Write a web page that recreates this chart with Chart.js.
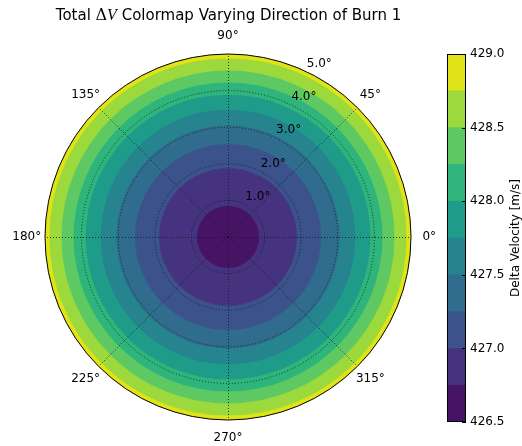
<!DOCTYPE html>
<html>
<head>
<meta charset="utf-8">
<script src="https://cdn.jsdelivr.net/npm/chart.js@4.4.1/dist/chart.umd.min.js"></script>
<style>
  html, body { margin: 0; padding: 0; background: #fff; }
  #wrap { position: relative; width: 522px; height: 446px; }
  #polarBox { position: absolute; left: 0; top: 0; width: 440px; height: 446px; }
  #barBox { position: absolute; left: 440px; top: 0; width: 82px; height: 446px; }
</style>
</head>
<body>
<div id="wrap">
  <div id="polarBox"><canvas id="polar"></canvas></div>
  <div id="barBox"><canvas id="cbar"></canvas></div>
</div>
<script>
// contour levels of total delta-V [m/s]
const levels = [426.5, 426.75, 427.0, 427.25, 427.5, 427.75, 428.0, 428.25, 428.5, 428.75, 429.0];
const bandColors = ['#471365', '#46337f', '#3b528b', '#2f6c8e', '#25848e',
                    '#1e9c89', '#2fb47c', '#5ec962', '#9bd93c', '#dfe318'];

// direction labels (theta grid)
const thetaLabels = ['0°', '45°', '90°', '135°', '180°', '225°', '270°', '315°'];
const thetaDegrees = [0, 45, 90, 135, 180, 225, 270, 315];

// radial axis (burn angle, degrees)
const radialTicks = [1, 2, 3, 4, 5];
const radialMax = 5;

// radius where each level boundary 426.75 ... 428.75 sits (outer band fills to the edge)
const levelRadius = [0.85, 1.88, 2.54, 3.05, 3.48, 3.89, 4.22, 4.55, 4.88];

Chart.defaults.font.family = 'DejaVu Sans';
Chart.defaults.font.size = 12;
Chart.defaults.color = '#000';

const gridColor = 'rgba(20,20,20,0.8)';

// one filled disc per band, inner bands on top (dataset 0 is drawn last)
const polarDatasets = bandColors.map((c, k) => ({
  label: levels[k] + '-' + levels[k + 1],
  data: [k < levelRadius.length ? levelRadius[k] : radialMax],
  backgroundColor: c,
  borderWidth: 0
}));

const polarDecor = {
  id: 'polarDecor',
  afterDraw(chart) {
    const ctx = chart.ctx;
    const sc = chart.scales.r;
    const cx = sc.xCenter, cy = sc.yCenter, R = sc.drawingArea;
    ctx.save();

    // theta grid lines
    ctx.strokeStyle = gridColor;
    ctx.lineWidth = 1;
    ctx.setLineDash([1, 2]);
    thetaDegrees.forEach(deg => {
      const a = deg * Math.PI / 180;
      const ox = deg % 180 === 90 ? 0.5 : 0;
      const oy = deg % 180 === 0 ? 0.5 : 0;
      ctx.beginPath();
      ctx.moveTo(cx + ox, cy + oy);
      ctx.lineTo(cx + ox + R * Math.cos(a), cy + oy - R * Math.sin(a));
      ctx.stroke();
    });

    // outer frame
    ctx.setLineDash([]);
    ctx.strokeStyle = '#000';
    ctx.beginPath();
    ctx.arc(cx, cy, R, 0, Math.PI * 2);
    ctx.stroke();

    // theta labels
    ctx.fillStyle = '#000';
    ctx.font = '12px "DejaVu Sans"';
    ctx.textAlign = 'center';
    ctx.textBaseline = 'middle';
    thetaDegrees.forEach((deg, i) => {
      const a = deg * Math.PI / 180;
      ctx.fillText(thetaLabels[i], cx + 1.1 * R * Math.cos(a), cy - 1.1 * R * Math.sin(a));
    });

    // radial labels
    ctx.textAlign = 'left';
    const ra = 65.2 * Math.PI / 180;
    radialTicks.forEach(v => {
      const d = sc.getDistanceFromCenterForValue(v);
      ctx.fillText(v.toFixed(1) + '°', cx + d * Math.cos(ra) + 2, cy - d * Math.sin(ra) - 7);
    });

    // title with math delta-V
    const parts = [
      ['Total ', '15px "DejaVu Sans"'],
      ['\u0394', '16px "DejaVu Serif"'],
      ['V', 'italic 16px "Liberation Serif"'],
      [' Colormap Varying Direction of Burn 1', '15px "DejaVu Sans"']
    ];
    let w = 0;
    parts.forEach(p => { ctx.font = p[1]; w += ctx.measureText(p[0]).width; });
    let x = cx + 0.5 - w / 2;
    ctx.textBaseline = 'alphabetic';
    parts.forEach(p => {
      ctx.font = p[1];
      ctx.fillText(p[0], x, 20);
      x += ctx.measureText(p[0]).width;
    });
    ctx.restore();
  }
};

new Chart(document.getElementById('polar'), {
  type: 'polarArea',
  data: { labels: [''], datasets: polarDatasets },
  options: {
    responsive: true,
    maintainAspectRatio: false,
    animation: false,
    events: [],
    layout: { padding: { left: 45, top: 54, right: 29, bottom: 26 } },
    plugins: { legend: { display: false }, tooltip: { enabled: false } },
    scales: {
      r: {
        min: 0,
        max: radialMax,
        ticks: { display: false, stepSize: 1 },
        angleLines: { display: false },
        pointLabels: { display: false },
        grid: {
          z: 1,
          circular: true,
          color: gridColor,
          lineWidth: c => (c.tick && c.tick.value >= radialMax ? 0 : 1)
        },
        border: { dash: [1, 2] }
      }
    }
  },
  plugins: [polarDecor]
});

// colorbar as floating bars, one per band
const cbarDatasets = bandColors.map((c, k) => ({
  data: [[levels[k], levels[k + 1]]],
  backgroundColor: c,
  borderWidth: 0,
  grouped: false,
  barPercentage: 1,
  categoryPercentage: 1
}));

const cbarDecor = {
  id: 'cbarDecor',
  afterDraw(chart) {
    const ctx = chart.ctx;
    const a = chart.chartArea;
    const y = chart.scales.y;
    ctx.save();
    ctx.strokeStyle = '#000';
    ctx.lineWidth = 1;
    ctx.strokeRect(a.left + 0.5, a.top + 0.5, a.right - a.left - 1, a.bottom - a.top - 1);
    // inward ticks on the right edge
    y.ticks.forEach(t => {
      const py = Math.round(y.getPixelForValue(t.value)) + 0.5;
      ctx.beginPath();
      ctx.moveTo(a.right - 4, py);
      ctx.lineTo(a.right, py);
      ctx.stroke();
    });
    // axis title, reading bottom to top
    ctx.fillStyle = '#000';
    ctx.font = '12px "DejaVu Sans"';
    ctx.textAlign = 'center';
    ctx.textBaseline = 'middle';
    ctx.translate(76, (a.top + a.bottom) / 2);
    ctx.rotate(-Math.PI / 2);
    ctx.fillText('Delta Velocity [m/s]', 0, 0);
    ctx.restore();
  }
};

new Chart(document.getElementById('cbar'), {
  type: 'bar',
  data: { labels: [''], datasets: cbarDatasets },
  options: {
    responsive: true,
    maintainAspectRatio: false,
    animation: false,
    events: [],
    layout: { padding: { left: 7, top: 54, right: 0, bottom: 24 } },
    plugins: { legend: { display: false }, tooltip: { enabled: false } },
    scales: {
      x: { display: false },
      y: {
        position: 'right',
        min: levels[0],
        max: levels[levels.length - 1],
        ticks: { stepSize: 0.5, padding: 4, callback: v => Number(v).toFixed(1) },
        grid: { display: false, drawTicks: false },
        border: { display: false },
        afterFit: s => { s.width = 56; }
      }
    }
  },
  plugins: [cbarDecor]
});
</script>
</body>
</html>
